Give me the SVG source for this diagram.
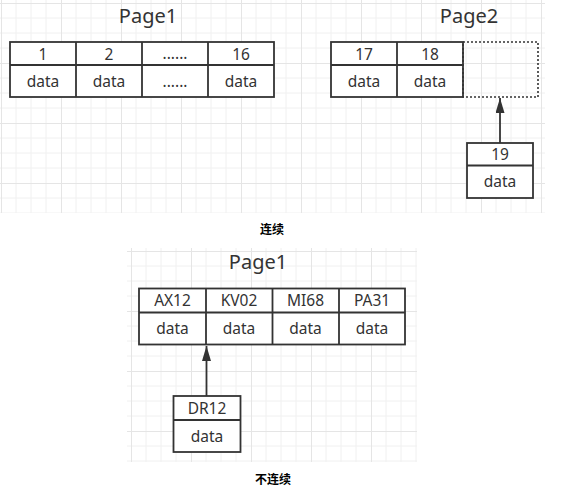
<svg xmlns="http://www.w3.org/2000/svg" width="562" height="496" viewBox="0 0 562 496">
<style>
.cell{fill:#fff;stroke:#333;stroke-width:1.8}
.ln{stroke:#333;stroke-width:1.8;fill:none}
.t{font-family:"Noto Sans","Noto Sans CJK SC",sans-serif;font-size:15.5px;fill:#333;text-anchor:middle}
.title{font-family:"Noto Sans","Noto Sans CJK SC",sans-serif;font-size:20px;fill:#333;text-anchor:middle}
.cap{font-family:"Noto Sans CJK SC",sans-serif;font-size:12px;font-weight:bold;fill:#000;text-anchor:middle}
</style>
<defs>
<pattern id="g1" x="1" y="3" width="60" height="60" patternUnits="userSpaceOnUse">
<path d="M15 0V60M30 0V60M45 0V60M0 15H60M0 30H60M0 45H60" stroke="#f0f0f0" stroke-width="1" fill="none"/>
<path d="M0.5 0V60M0 0.5H60" stroke="#e5e5e5" stroke-width="1" fill="none"/>
</pattern>
<pattern id="g2" x="131" y="251" width="60" height="60" patternUnits="userSpaceOnUse">
<path d="M15 0V60M30 0V60M45 0V60M0 15H60M0 30H60M0 45H60" stroke="#f0f0f0" stroke-width="1" fill="none"/>
<path d="M0.5 0V60M0 0.5H60" stroke="#e5e5e5" stroke-width="1" fill="none"/>
</pattern>
<marker id="ah" viewBox="0 0 15 9" refX="15" refY="4.5" markerWidth="15" markerHeight="9" markerUnits="userSpaceOnUse" orient="auto">
<path d="M0 0L15 4.5L0 9Z" fill="#333"/>
</marker>
</defs>
<rect width="562" height="496" fill="#fff"/>
<rect x="0" y="0" width="545" height="213" fill="url(#g1)"/>
<rect x="127" y="248" width="290" height="214" fill="url(#g2)"/>

<g id="connectors">
<line x1="500" y1="143" x2="500" y2="98" class="ln" marker-end="url(#ah)"/>
<line x1="206.5" y1="396" x2="206.5" y2="346" class="ln" marker-end="url(#ah)"/>
</g>

<g id="page1-top">
<text x="148" y="23" class="title">Page1</text>
<rect x="10" y="42" width="264" height="55" class="cell"/>
<path d="M10 65H274M76 42V97M142 42V97M208 42V97" class="ln"/>
<text x="43" y="60" class="t">1</text>
<text x="109" y="60" class="t">2</text>
<text x="175" y="59" class="t">......</text>
<text x="241" y="60" class="t">16</text>
<text x="43" y="87" class="t">data</text>
<text x="109" y="87" class="t">data</text>
<text x="175" y="87" class="t">......</text>
<text x="241" y="87" class="t">data</text>
</g>

<g id="page2-top">
<text x="469" y="23" class="title">Page2</text>
<rect x="331" y="42" width="132" height="55" class="cell"/>
<path d="M331 65H463M397 42V97" class="ln"/>
<rect x="463" y="42" width="75" height="55" fill="none" stroke="#333" stroke-width="1.6" stroke-dasharray="2 2"/>
<text x="364" y="60" class="t">17</text>
<text x="430" y="60" class="t">18</text>
<text x="364" y="87" class="t">data</text>
<text x="430" y="87" class="t">data</text>
</g>

<g id="node19">
<rect x="467" y="143" width="66" height="55" class="cell"/>
<path d="M467 165.5H533" class="ln"/>
<text x="500" y="160" class="t">19</text>
<text x="500" y="187" class="t">data</text>
</g>

<text x="272" y="234" class="cap">连续</text>

<g id="page1-bottom">
<text x="258" y="269" class="title">Page1</text>
<rect x="139" y="288.5" width="266" height="56" class="cell"/>
<path d="M139 312.5H405M206 288.5V344.5M272.5 288.5V344.5M339 288.5V344.5" class="ln"/>
<text x="172.5" y="306" class="t">AX12</text>
<text x="239" y="306" class="t">KV02</text>
<text x="305.5" y="306" class="t">MI68</text>
<text x="372" y="306" class="t">PA31</text>
<text x="172.5" y="334" class="t">data</text>
<text x="239" y="334" class="t">data</text>
<text x="305.5" y="334" class="t">data</text>
<text x="372" y="334" class="t">data</text>
</g>

<g id="nodeDR12">
<rect x="173.5" y="396" width="67" height="56" class="cell"/>
<path d="M173.5 420H240.5" class="ln"/>
<text x="207" y="414" class="t">DR12</text>
<text x="207" y="442" class="t">data</text>
</g>

<text x="273" y="484" class="cap">不连续</text>
</svg>
